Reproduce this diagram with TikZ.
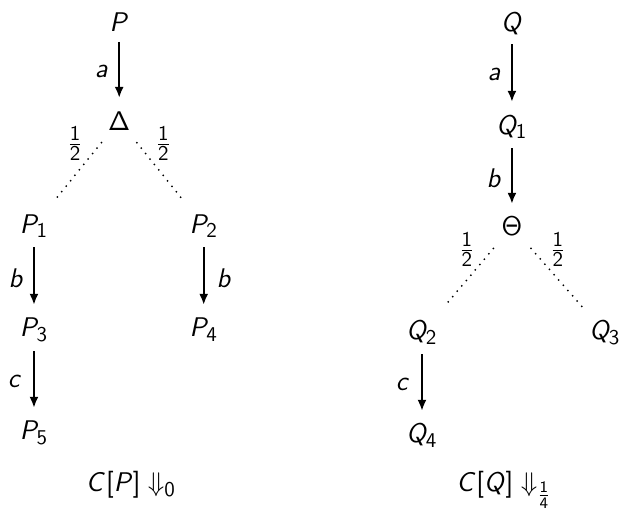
\documentclass[tikz,border=0pt]{standalone}
\usepackage{fix-cm}
\usepackage{amsmath}
\usepackage{tikz}
\usetikzlibrary{arrows.meta}
% sans serif maths, as on slides
\DeclareSymbolFont{operators}{OT1}{cmss}{m}{n}
\DeclareSymbolFont{letters}{OT1}{cmss}{m}{sl}
\DeclareMathSizes{13.5}{13.5}{10.5}{8}

\begin{document}
\begin{tikzpicture}[
    every node/.style={font=\fontsize{13.5}{16}\selectfont, inner sep=3pt},
    proc/.style={anchor=base},
    trans/.style={-{Latex[length=5.5pt,width=4.5pt]}, line width=1pt, shorten <=1.8pt, shorten >=3.5pt},
    prob/.style={line width=1pt, dash pattern=on 0pt off 3.5pt, line cap=round, shorten <=4pt, shorten >=5pt}]
    \useasboundingbox (0,0) rectangle (10.896,-8.945);
    % C[P]
    \node[proc] (P)     at (2.095,-0.562) {$P$};
    \node[proc] (Delta) at (2.095,-2.285) {$\Delta$};
    \node[proc] (P1)    at (0.597,-4.095) {$P_1$};
    \node[proc] (P2)    at (3.580,-4.095) {$P_2$};
    \node[proc] (P3)    at (0.597,-5.922) {$P_3$};
    \node[proc] (P4)    at (3.580,-5.922) {$P_4$};
    \node[proc] (P5)    at (0.597,-7.732) {$P_5$};
    \node[proc] (CP)    at (2.302,-8.64) {$C[P] \Downarrow_0$};
    \draw[trans] (P) -- node[left=2pt] {$a$} (Delta);
    \draw[prob] (Delta) -- node[pos=0.1, left=5.5pt] {$\frac{1}{2}$} (P1);
    \draw[prob] (Delta) -- node[pos=0.1, right=5.5pt] {$\frac{1}{2}$} (P2);
    \draw[trans] (P1) -- node[left=2pt] {$b$} (P3);
    \draw[trans] (P2) -- node[right=3pt] {$b$} (P4);
    \draw[trans] (P3) -- node[left=2.5pt] {$c$} (P5);
    % C[Q]
    \node[proc] (Q)     at (8.997,-0.545) {$Q$};
    \node[proc] (Q1)    at (8.997,-2.355) {$Q_1$};
    \node[proc] (Theta) at (8.997,-4.147) {$\Theta$};
    \node[proc] (Q2)    at (7.416,-5.975) {$Q_2$};
    \node[proc] (Q3)    at (10.632,-5.975) {$Q_3$};
    \node[proc] (Q4)    at (7.416,-7.785) {$Q_4$};
    \node[proc] (CQ)    at (8.857,-8.64) {$C[Q] \Downarrow_{\frac{1}{4}}$};
    \draw[trans] (Q) -- node[left=2pt] {$a$} (Q1);
    \draw[trans] (Q1) -- node[left=2pt] {$b$} (Theta);
    \draw[prob] (Theta) -- node[pos=0.1, left=5.5pt] {$\frac{1}{2}$} (Q2);
    \draw[prob] (Theta) -- node[pos=0.1, right=5.5pt] {$\frac{1}{2}$} (Q3);
    \draw[trans] (Q2) -- node[left=2.5pt] {$c$} (Q4);
\end{tikzpicture}
\end{document}
